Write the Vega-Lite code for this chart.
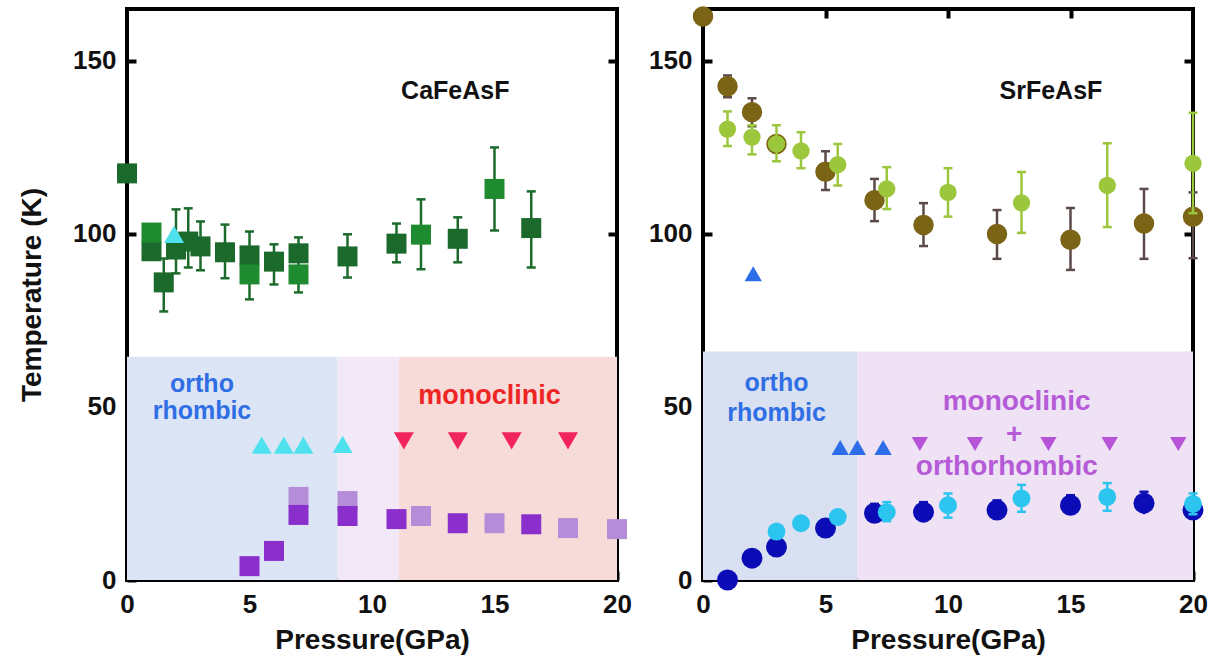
{
  "$schema": "https://vega.github.io/schema/vega-lite/v6.json",
  "background": "white",
  "padding": {"left": 16, "top": 4, "right": 5, "bottom": 5},
  "bounds": "flush",
  "spacing": 86,
  "datasets": {
    "regions": [
      {"panel": "ca", "P": 0, "P2": 8.6, "T": 0, "T2": 64.5, "r": "ca_o"},
      {"panel": "ca", "P": 8.6, "P2": 11.1, "T": 0, "T2": 64.5, "r": "ca_m"},
      {"panel": "ca", "P": 11.1, "P2": 20, "T": 0, "T2": 64.5, "r": "ca_mono"},
      {"panel": "sr", "P": 0, "P2": 6.3, "T": 0, "T2": 66, "r": "sr_o"},
      {"panel": "sr", "P": 6.3, "P2": 20, "T": 0, "T2": 66, "r": "sr_m"}
    ],
    "ca": [
      {"P": 0, "T": 117.5, "s": "g1"},
      {"P": 1.0, "T": 95, "s": "g1"},
      {"P": 1.0, "T": 100.4, "s": "g2"},
      {"P": 1.5, "T": 86, "lo": 77.6, "hi": 92.9, "s": "g1"},
      {"P": 2.0, "T": 95.5, "lo": 88.6, "hi": 107.1, "s": "g1"},
      {"P": 2.5, "T": 97.8, "lo": 90.3, "hi": 107.4, "s": "g1"},
      {"P": 3.0, "T": 96.4, "lo": 89.5, "hi": 103.6, "s": "g1"},
      {"P": 4.0, "T": 94.7, "lo": 87.2, "hi": 102.7, "s": "g1"},
      {"P": 5.0, "T": 93.8, "s": "g1"},
      {"P": 5.0, "T": 88.3, "lo": 81.1, "hi": 100.7, "s": "g2"},
      {"P": 6.0, "T": 92, "lo": 85.4, "hi": 97, "s": "g1"},
      {"P": 7.0, "T": 94.4, "s": "g1"},
      {"P": 7.0, "T": 88.3, "lo": 83.1, "hi": 99, "s": "g2"},
      {"P": 9.0, "T": 93.5, "lo": 87.4, "hi": 99.9, "s": "g1"},
      {"P": 11.0, "T": 97.2, "lo": 91.8, "hi": 103, "s": "g1"},
      {"P": 12.0, "T": 99.8, "lo": 89.8, "hi": 110, "s": "g2"},
      {"P": 13.5, "T": 98.6, "lo": 91.8, "hi": 104.8, "s": "g1"},
      {"P": 15.0, "T": 113, "lo": 101, "hi": 125, "s": "g2"},
      {"P": 16.5, "T": 101.7, "lo": 90.3, "hi": 112.3, "s": "g1"},
      {"P": 1.92, "T": 99.9, "s": "cy"},
      {"P": 5.5, "T": 39, "s": "cy"},
      {"P": 6.4, "T": 39, "s": "cy"},
      {"P": 7.2, "T": 39, "s": "cy"},
      {"P": 8.8, "T": 39.2, "s": "cy"},
      {"P": 11.3, "T": 40.2, "s": "rd"},
      {"P": 13.5, "T": 40.2, "s": "rd"},
      {"P": 15.7, "T": 40.2, "s": "rd"},
      {"P": 18.0, "T": 40.2, "s": "rd"},
      {"P": 5.0, "T": 4.0, "s": "p1"},
      {"P": 6.0, "T": 8.4, "s": "p1"},
      {"P": 7.0, "T": 18.8, "s": "p1"},
      {"P": 9.0, "T": 18.5, "s": "p1"},
      {"P": 11.0, "T": 17.6, "s": "p1"},
      {"P": 13.5, "T": 16.4, "s": "p1"},
      {"P": 16.5, "T": 16.1, "s": "p1"},
      {"P": 7.0, "T": 24.0, "s": "p2"},
      {"P": 9.0, "T": 22.8, "s": "p2"},
      {"P": 12.0, "T": 18.5, "s": "p2"},
      {"P": 15.0, "T": 16.4, "s": "p2"},
      {"P": 18.0, "T": 15.0, "s": "p2"},
      {"P": 20.0, "T": 14.7, "s": "p2"}
    ],
    "sr": [
      {"P": 0, "T": 162.8, "s": "b"},
      {"P": 1, "T": 142.7, "lo": 139.5, "hi": 145.8, "s": "b"},
      {"P": 2, "T": 135.2, "lo": 131.1, "hi": 139.2, "s": "b"},
      {"P": 3, "T": 126, "s": "b"},
      {"P": 5, "T": 118, "lo": 112.7, "hi": 123.9, "s": "b"},
      {"P": 7, "T": 109.7, "lo": 103.7, "hi": 115.9, "s": "b"},
      {"P": 9, "T": 102.6, "lo": 96.5, "hi": 108.9, "s": "b"},
      {"P": 12, "T": 100, "lo": 92.8, "hi": 106.9, "s": "b"},
      {"P": 15, "T": 98.3, "lo": 89.6, "hi": 107.5, "s": "b"},
      {"P": 18, "T": 103, "lo": 92.8, "hi": 113, "s": "b"},
      {"P": 20, "T": 105, "lo": 93, "hi": 112, "s": "b"},
      {"P": 1, "T": 130.3, "lo": 125.4, "hi": 135.4, "s": "lg"},
      {"P": 2, "T": 128, "lo": 123, "hi": 131.4, "s": "lg"},
      {"P": 3, "T": 126, "lo": 121, "hi": 131.4, "s": "lg"},
      {"P": 4, "T": 124, "lo": 119, "hi": 129.4, "s": "lg"},
      {"P": 5.5, "T": 120, "lo": 114, "hi": 126, "s": "lg"},
      {"P": 7.5, "T": 113, "lo": 107.2, "hi": 119.3, "s": "lg"},
      {"P": 10, "T": 112, "lo": 105, "hi": 119, "s": "lg"},
      {"P": 13, "T": 109, "lo": 100.3, "hi": 117.9, "s": "lg"},
      {"P": 16.5, "T": 114, "lo": 102, "hi": 126.2, "s": "lg"},
      {"P": 20, "T": 120.4, "lo": 106, "hi": 135, "s": "lg"},
      {"P": 1, "T": 0, "s": "n"},
      {"P": 2, "T": 6.3, "s": "n"},
      {"P": 3, "T": 9.5, "s": "n"},
      {"P": 5, "T": 15, "s": "n"},
      {"P": 7, "T": 19.3, "lo": 17, "hi": 22, "s": "n"},
      {"P": 9, "T": 19.6, "lo": 17, "hi": 22.5, "s": "n"},
      {"P": 12, "T": 20.2, "lo": 17.5, "hi": 23, "s": "n"},
      {"P": 15, "T": 21.6, "lo": 19, "hi": 24.5, "s": "n"},
      {"P": 18, "T": 22.2, "lo": 19, "hi": 25.5, "s": "n"},
      {"P": 20, "T": 20.2, "lo": 18, "hi": 23, "s": "n"},
      {"P": 3, "T": 14, "s": "c"},
      {"P": 4, "T": 16.4, "s": "c"},
      {"P": 5.5, "T": 18.2, "s": "c"},
      {"P": 7.5, "T": 19.6, "lo": 17, "hi": 22.5, "s": "c"},
      {"P": 10, "T": 21.6, "lo": 18, "hi": 25, "s": "c"},
      {"P": 13, "T": 23.6, "lo": 19.7, "hi": 27.5, "s": "c"},
      {"P": 16.5, "T": 24, "lo": 20, "hi": 28, "s": "c"},
      {"P": 20, "T": 22, "lo": 19, "hi": 25, "s": "c"},
      {"P": 2.05, "T": 88.5, "s": "bt"},
      {"P": 5.6, "T": 38.3, "s": "bt"},
      {"P": 6.3, "T": 38.3, "s": "bt"},
      {"P": 7.35, "T": 38.3, "s": "bt"},
      {"P": 8.85, "T": 39.3, "s": "pd"},
      {"P": 11.1, "T": 39.3, "s": "pd"},
      {"P": 14.1, "T": 39.3, "s": "pd"},
      {"P": 16.6, "T": 39.3, "s": "pd"},
      {"P": 19.4, "T": 39.3, "s": "pd"}
    ],
    "labels": [
      {"panel": "ca", "P": 13.4, "T": 141.4, "text": "CaFeAsF", "k": "black"},
      {"panel": "ca", "P": 3.06, "T": 56.6, "text": "ortho", "k": "blue"},
      {"panel": "ca", "P": 3.06, "T": 48.8, "text": "rhombic", "k": "blue"},
      {"panel": "ca", "P": 14.8, "T": 53.1, "text": "monoclinic", "k": "red"},
      {"panel": "sr", "P": 14.2, "T": 141.2, "text": "SrFeAsF", "k": "black"},
      {"panel": "sr", "P": 3.0, "T": 56.8, "text": "ortho", "k": "blue"},
      {"panel": "sr", "P": 3.0, "T": 48.4, "text": "rhombic", "k": "blue"},
      {"panel": "sr", "P": 12.8, "T": 51.3, "text": "monoclinic", "k": "purple"},
      {"panel": "sr", "P": 12.7, "T": 42, "text": "+", "k": "purple"},
      {"panel": "sr", "P": 12.4, "T": 32.6, "text": "orthorhombic", "k": "purple"}
    ]
  },
  "hconcat": [
    {
      "width": 490,
      "height": 571,
      "layer": [
        {
          "data": {"name": "regions"},
          "transform": [{"filter": "datum.panel == 'ca'"}],
          "mark": {"type": "rect"},
          "encoding": {
            "x": {"field": "P", "type": "quantitative", "scale": {"domain": [0, 20], "nice": false}, "axis": {"orient": "bottom", "values": [0, 5, 10, 15, 20], "title": "Pressure(GPa)"}},
            "x2": {"field": "P2"},
            "y": {"field": "T", "type": "quantitative", "scale": {"domain": [0, 165], "nice": false}, "axis": {"orient": "left", "values": [0, 50, 100, 150], "title": "Temperature (K)"}},
            "y2": {"field": "T2"},
            "color": {"field": "r", "type": "nominal", "scale": {"domain": ["ca_o", "ca_m", "ca_mono", "sr_o", "sr_m"], "range": ["#dce5f5", "#f2e8f8", "#f7dbd8", "#d8e0f1", "#efe2f4"]}, "legend": null}
          }
        },
        {
          "data": {"name": "ca"},
          "transform": [{"filter": "(datum.s == 'g1' || datum.s == 'g2') && isValid(datum.hi)"}],
          "mark": {"type": "rule", "color": "#1d6b2c", "strokeWidth": 2.5},
          "encoding": {
            "x": {"field": "P", "type": "quantitative", "scale": {"domain": [0, 20], "nice": false}, "axis": null},
            "y": {"field": "lo", "type": "quantitative", "scale": {"domain": [0, 165], "nice": false}, "axis": null},
            "y2": {"field": "hi"}
          }
        },
        {
          "data": {"name": "ca"},
          "transform": [{"filter": "(datum.s == 'g1' || datum.s == 'g2') && isValid(datum.hi)"}],
          "mark": {"type": "tick", "orient": "horizontal", "color": "#1d6b2c", "size": 9, "thickness": 2.5, "opacity": 1},
          "encoding": {
            "x": {"field": "P", "type": "quantitative", "scale": {"domain": [0, 20], "nice": false}, "axis": null},
            "y": {"field": "lo", "type": "quantitative", "scale": {"domain": [0, 165], "nice": false}, "axis": null}
          }
        },
        {
          "data": {"name": "ca"},
          "transform": [{"filter": "(datum.s == 'g1' || datum.s == 'g2') && isValid(datum.hi)"}],
          "mark": {"type": "tick", "orient": "horizontal", "color": "#1d6b2c", "size": 9, "thickness": 2.5, "opacity": 1},
          "encoding": {
            "x": {"field": "P", "type": "quantitative", "scale": {"domain": [0, 20], "nice": false}, "axis": null},
            "y": {"field": "hi", "type": "quantitative", "scale": {"domain": [0, 165], "nice": false}, "axis": null}
          }
        },
        {
          "data": {"name": "ca"},
          "transform": [{"filter": "datum.s == 'g1'"}],
          "mark": {"type": "point", "shape": "square", "filled": true, "opacity": 1, "size": 400, "color": "#1b6a2b"},
          "encoding": {
            "x": {"field": "P", "type": "quantitative", "scale": {"domain": [0, 20], "nice": false}, "axis": null},
            "y": {"field": "T", "type": "quantitative", "scale": {"domain": [0, 165], "nice": false}, "axis": null}
          }
        },
        {
          "data": {"name": "ca"},
          "transform": [{"filter": "datum.s == 'g2'"}],
          "mark": {"type": "point", "shape": "square", "filled": true, "opacity": 1, "size": 400, "color": "#1f8b31"},
          "encoding": {
            "x": {"field": "P", "type": "quantitative", "scale": {"domain": [0, 20], "nice": false}, "axis": null},
            "y": {"field": "T", "type": "quantitative", "scale": {"domain": [0, 165], "nice": false}, "axis": null}
          }
        },
        {
          "data": {"name": "ca"},
          "transform": [{"filter": "datum.s == 'p2'"}],
          "mark": {"type": "point", "shape": "square", "filled": true, "opacity": 1, "size": 400, "color": "#b58cd8"},
          "encoding": {
            "x": {"field": "P", "type": "quantitative", "scale": {"domain": [0, 20], "nice": false}, "axis": null},
            "y": {"field": "T", "type": "quantitative", "scale": {"domain": [0, 165], "nice": false}, "axis": null}
          }
        },
        {
          "data": {"name": "ca"},
          "transform": [{"filter": "datum.s == 'p1'"}],
          "mark": {"type": "point", "shape": "square", "filled": true, "opacity": 1, "size": 400, "color": "#8a2fcc"},
          "encoding": {
            "x": {"field": "P", "type": "quantitative", "scale": {"domain": [0, 20], "nice": false}, "axis": null},
            "y": {"field": "T", "type": "quantitative", "scale": {"domain": [0, 165], "nice": false}, "axis": {"orient": "right", "values": [50, 100, 150], "labels": false, "title": null}}
          }
        },
        {
          "data": {"name": "ca"},
          "transform": [{"filter": "datum.s == 'cy'"}],
          "mark": {"type": "point", "shape": "triangle-up", "filled": true, "opacity": 1, "size": 400, "color": "#4fe2ee"},
          "encoding": {
            "x": {"field": "P", "type": "quantitative", "scale": {"domain": [0, 20], "nice": false}, "axis": null},
            "y": {"field": "T", "type": "quantitative", "scale": {"domain": [0, 165], "nice": false}, "axis": null}
          }
        },
        {
          "data": {"name": "ca"},
          "transform": [{"filter": "datum.s == 'rd'"}],
          "mark": {"type": "point", "shape": "triangle-down", "filled": true, "opacity": 1, "size": 400, "color": "#f1255c"},
          "encoding": {
            "x": {"field": "P", "type": "quantitative", "scale": {"domain": [0, 20], "nice": false}, "axis": null},
            "y": {"field": "T", "type": "quantitative", "scale": {"domain": [0, 165], "nice": false}, "axis": null}
          }
        },
        {
          "data": {"name": "labels"},
          "transform": [{"filter": "datum.panel == 'ca' && datum.k == 'black'"}],
          "mark": {"type": "text", "font": "Liberation Sans", "fontWeight": "bold", "fontSize": 25, "color": "#111111", "align": "center", "baseline": "middle"},
          "encoding": {
            "x": {"field": "P", "type": "quantitative", "scale": {"domain": [0, 20], "nice": false}, "axis": null},
            "y": {"field": "T", "type": "quantitative", "scale": {"domain": [0, 165], "nice": false}, "axis": null},
            "text": {"field": "text"}
          }
        },
        {
          "data": {"name": "labels"},
          "transform": [{"filter": "datum.panel == 'ca' && datum.k == 'blue'"}],
          "mark": {"type": "text", "font": "Liberation Sans", "fontWeight": "bold", "fontSize": 25, "color": "#2f6ee4", "align": "center", "baseline": "middle"},
          "encoding": {
            "x": {"field": "P", "type": "quantitative", "scale": {"domain": [0, 20], "nice": false}, "axis": null},
            "y": {"field": "T", "type": "quantitative", "scale": {"domain": [0, 165], "nice": false}, "axis": null},
            "text": {"field": "text"}
          }
        },
        {
          "data": {"name": "labels"},
          "transform": [{"filter": "datum.panel == 'ca' && datum.k == 'red'"}],
          "mark": {"type": "text", "font": "Liberation Sans", "fontWeight": "bold", "fontSize": 27, "color": "#ee2525", "align": "center", "baseline": "middle"},
          "encoding": {
            "x": {"field": "P", "type": "quantitative", "scale": {"domain": [0, 20], "nice": false}, "axis": null},
            "y": {"field": "T", "type": "quantitative", "scale": {"domain": [0, 165], "nice": false}, "axis": null},
            "text": {"field": "text"}
          }
        }
      ],
      "resolve": {"axis": {"x": "independent", "y": "independent"}}
    },
    {
      "width": 490,
      "height": 571,
      "layer": [
        {
          "data": {"name": "regions"},
          "transform": [{"filter": "datum.panel == 'sr'"}],
          "mark": {"type": "rect"},
          "encoding": {
            "x": {"field": "P", "type": "quantitative", "scale": {"domain": [0, 20], "nice": false}, "axis": {"orient": "bottom", "values": [0, 5, 10, 15, 20], "title": "Pressure(GPa)"}},
            "x2": {"field": "P2"},
            "y": {"field": "T", "type": "quantitative", "scale": {"domain": [0, 165], "nice": false}, "axis": {"orient": "left", "values": [0, 50, 100, 150], "title": null}},
            "y2": {"field": "T2"},
            "color": {"field": "r", "type": "nominal", "scale": {"domain": ["ca_o", "ca_m", "ca_mono", "sr_o", "sr_m"], "range": ["#dce5f5", "#f2e8f8", "#f7dbd8", "#d8e0f1", "#efe2f4"]}, "legend": null}
          }
        },
        {
          "data": {"name": "sr"},
          "transform": [{"filter": "datum.s == 'b' && isValid(datum.hi)"}],
          "layer": [
            {"mark": {"type": "rule", "color": "#5c4a4a", "strokeWidth": 2.5},
             "encoding": {"y2": {"field": "hi"}, "y": {"field": "lo", "type": "quantitative", "scale": {"domain": [0, 165], "nice": false}, "axis": null}}},
            {"mark": {"type": "tick", "orient": "horizontal", "color": "#5c4a4a", "size": 9, "thickness": 2.5, "opacity": 1},
             "encoding": {"y": {"field": "lo", "type": "quantitative", "scale": {"domain": [0, 165], "nice": false}, "axis": null}}},
            {"mark": {"type": "tick", "orient": "horizontal", "color": "#5c4a4a", "size": 9, "thickness": 2.5, "opacity": 1},
             "encoding": {"y": {"field": "hi", "type": "quantitative", "scale": {"domain": [0, 165], "nice": false}, "axis": null}}}
          ],
          "encoding": {
            "x": {"field": "P", "type": "quantitative", "scale": {"domain": [0, 20], "nice": false}, "axis": null}
          }
        },
        {
          "data": {"name": "sr"},
          "transform": [{"filter": "datum.s == 'b'"}],
          "mark": {"type": "point", "shape": "circle", "filled": true, "opacity": 1, "size": 420, "color": "#7b6416"},
          "encoding": {
            "x": {"field": "P", "type": "quantitative", "scale": {"domain": [0, 20], "nice": false}, "axis": null},
            "y": {"field": "T", "type": "quantitative", "scale": {"domain": [0, 165], "nice": false}, "axis": null}
          }
        },
        {
          "data": {"name": "sr"},
          "transform": [{"filter": "datum.s == 'lg' && isValid(datum.hi)"}],
          "layer": [
            {"mark": {"type": "rule", "color": "#9cc63c", "strokeWidth": 2.5},
             "encoding": {"y2": {"field": "hi"}, "y": {"field": "lo", "type": "quantitative", "scale": {"domain": [0, 165], "nice": false}, "axis": null}}},
            {"mark": {"type": "tick", "orient": "horizontal", "color": "#9cc63c", "size": 9, "thickness": 2.5, "opacity": 1},
             "encoding": {"y": {"field": "lo", "type": "quantitative", "scale": {"domain": [0, 165], "nice": false}, "axis": null}}},
            {"mark": {"type": "tick", "orient": "horizontal", "color": "#9cc63c", "size": 9, "thickness": 2.5, "opacity": 1},
             "encoding": {"y": {"field": "hi", "type": "quantitative", "scale": {"domain": [0, 165], "nice": false}, "axis": null}}}
          ],
          "encoding": {
            "x": {"field": "P", "type": "quantitative", "scale": {"domain": [0, 20], "nice": false}, "axis": null}
          }
        },
        {
          "data": {"name": "sr"},
          "transform": [{"filter": "datum.s == 'lg'"}],
          "mark": {"type": "point", "shape": "circle", "filled": true, "opacity": 1, "size": 300, "color": "#9cc63c"},
          "encoding": {
            "x": {"field": "P", "type": "quantitative", "scale": {"domain": [0, 20], "nice": false}, "axis": {"orient": "top", "values": [5, 10, 15], "labels": false, "title": null}},
            "y": {"field": "T", "type": "quantitative", "scale": {"domain": [0, 165], "nice": false}, "axis": null}
          }
        },
        {
          "data": {"name": "sr"},
          "transform": [{"filter": "(datum.s == 'n') && isValid(datum.hi)"}],
          "layer": [
            {"mark": {"type": "rule", "color": "#1010b8", "strokeWidth": 2.5},
             "encoding": {"y2": {"field": "hi"}, "y": {"field": "lo", "type": "quantitative", "scale": {"domain": [0, 165], "nice": false}, "axis": null}}},
            {"mark": {"type": "tick", "orient": "horizontal", "color": "#1010b8", "size": 9, "thickness": 2.5, "opacity": 1},
             "encoding": {"y": {"field": "hi", "type": "quantitative", "scale": {"domain": [0, 165], "nice": false}, "axis": null}}}
          ],
          "encoding": {
            "x": {"field": "P", "type": "quantitative", "scale": {"domain": [0, 20], "nice": false}, "axis": null}
          }
        },
        {
          "data": {"name": "sr"},
          "transform": [{"filter": "datum.s == 'n'"}],
          "mark": {"type": "point", "shape": "circle", "filled": true, "opacity": 1, "size": 440, "color": "#0c0cb6"},
          "encoding": {
            "x": {"field": "P", "type": "quantitative", "scale": {"domain": [0, 20], "nice": false}, "axis": null},
            "y": {"field": "T", "type": "quantitative", "scale": {"domain": [0, 165], "nice": false}, "axis": null}
          }
        },
        {
          "data": {"name": "sr"},
          "transform": [{"filter": "(datum.s == 'c') && isValid(datum.hi)"}],
          "layer": [
            {"mark": {"type": "rule", "color": "#2cc5ef", "strokeWidth": 2.5},
             "encoding": {"y2": {"field": "hi"}, "y": {"field": "lo", "type": "quantitative", "scale": {"domain": [0, 165], "nice": false}, "axis": null}}},
            {"mark": {"type": "tick", "orient": "horizontal", "color": "#2cc5ef", "size": 9, "thickness": 2.5, "opacity": 1},
             "encoding": {"y": {"field": "lo", "type": "quantitative", "scale": {"domain": [0, 165], "nice": false}, "axis": null}}},
            {"mark": {"type": "tick", "orient": "horizontal", "color": "#2cc5ef", "size": 9, "thickness": 2.5, "opacity": 1},
             "encoding": {"y": {"field": "hi", "type": "quantitative", "scale": {"domain": [0, 165], "nice": false}, "axis": null}}}
          ],
          "encoding": {
            "x": {"field": "P", "type": "quantitative", "scale": {"domain": [0, 20], "nice": false}, "axis": null}
          }
        },
        {
          "data": {"name": "sr"},
          "transform": [{"filter": "datum.s == 'c'"}],
          "mark": {"type": "point", "shape": "circle", "filled": true, "opacity": 1, "size": 320, "color": "#2cc5ef"},
          "encoding": {
            "x": {"field": "P", "type": "quantitative", "scale": {"domain": [0, 20], "nice": false}, "axis": null},
            "y": {"field": "T", "type": "quantitative", "scale": {"domain": [0, 165], "nice": false}, "axis": null}
          }
        },
        {
          "data": {"name": "sr"},
          "transform": [{"filter": "datum.s == 'bt'"}],
          "mark": {"type": "point", "shape": "triangle-up", "filled": true, "opacity": 1, "size": 300, "color": "#2e6de8"},
          "encoding": {
            "x": {"field": "P", "type": "quantitative", "scale": {"domain": [0, 20], "nice": false}, "axis": null},
            "y": {"field": "T", "type": "quantitative", "scale": {"domain": [0, 165], "nice": false}, "axis": {"orient": "right", "values": [50, 100, 150], "labels": false, "title": null}}
          }
        },
        {
          "data": {"name": "sr"},
          "transform": [{"filter": "datum.s == 'pd'"}],
          "mark": {"type": "point", "shape": "triangle-down", "filled": true, "opacity": 1, "size": 270, "color": "#b554d8"},
          "encoding": {
            "x": {"field": "P", "type": "quantitative", "scale": {"domain": [0, 20], "nice": false}, "axis": null},
            "y": {"field": "T", "type": "quantitative", "scale": {"domain": [0, 165], "nice": false}, "axis": null}
          }
        },
        {
          "data": {"name": "labels"},
          "transform": [{"filter": "datum.panel == 'sr' && datum.k == 'black'"}],
          "mark": {"type": "text", "font": "Liberation Sans", "fontWeight": "bold", "fontSize": 25, "color": "#111111", "align": "center", "baseline": "middle"},
          "encoding": {
            "x": {"field": "P", "type": "quantitative", "scale": {"domain": [0, 20], "nice": false}, "axis": null},
            "y": {"field": "T", "type": "quantitative", "scale": {"domain": [0, 165], "nice": false}, "axis": null},
            "text": {"field": "text"}
          }
        },
        {
          "data": {"name": "labels"},
          "transform": [{"filter": "datum.panel == 'sr' && datum.k == 'blue'"}],
          "mark": {"type": "text", "font": "Liberation Sans", "fontWeight": "bold", "fontSize": 25, "color": "#2f6ee4", "align": "center", "baseline": "middle"},
          "encoding": {
            "x": {"field": "P", "type": "quantitative", "scale": {"domain": [0, 20], "nice": false}, "axis": null},
            "y": {"field": "T", "type": "quantitative", "scale": {"domain": [0, 165], "nice": false}, "axis": null},
            "text": {"field": "text"}
          }
        },
        {
          "data": {"name": "labels"},
          "transform": [{"filter": "datum.panel == 'sr' && datum.k == 'purple'"}],
          "mark": {"type": "text", "font": "Liberation Sans", "fontWeight": "bold", "fontSize": 28, "color": "#b55bd8", "align": "center", "baseline": "middle"},
          "encoding": {
            "x": {"field": "P", "type": "quantitative", "scale": {"domain": [0, 20], "nice": false}, "axis": null},
            "y": {"field": "T", "type": "quantitative", "scale": {"domain": [0, 165], "nice": false}, "axis": null},
            "text": {"field": "text"}
          }
        }
      ],
      "resolve": {"axis": {"x": "independent", "y": "independent"}}
    }
  ],
  "config": {
    "font": "Liberation Sans",
    "view": {"stroke": "#000000", "strokeWidth": 4},
    "axis": {
      "domain": false,
      "grid": false,
      "ticks": true,
      "tickSize": -9,
      "tickWidth": 4,
      "tickColor": "#000000",
      "labelFont": "Liberation Sans",
      "labelFontSize": 26,
      "labelFontWeight": "bold",
      "labelColor": "#111111",
      "labelPadding": 20,
      "labelFlush": false,
      "labelOverlap": false,
      "titleFont": "Liberation Sans",
      "titleFontSize": 28,
      "titleFontWeight": "bold",
      "titleColor": "#111111"
    },
    "axisX": {"titlePadding": 9},
    "axisY": {"titlePadding": 26}
  }
}
